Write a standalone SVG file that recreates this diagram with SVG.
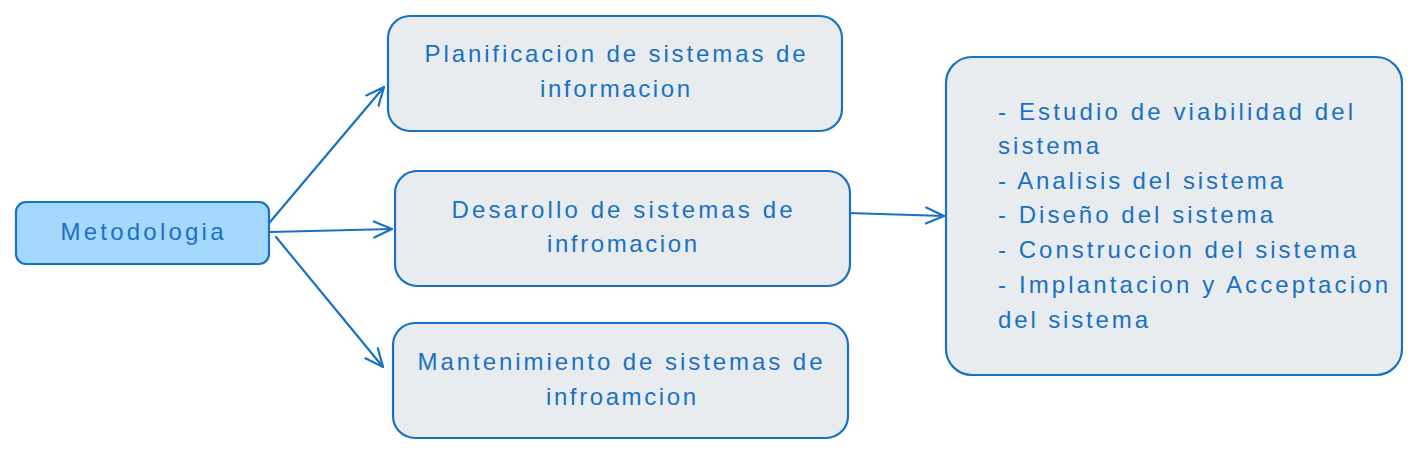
<svg xmlns="http://www.w3.org/2000/svg" width="1418" height="453" viewBox="0 0 1418 453">
<defs>
<style>
.box{fill:#e9ecef;stroke:#1971c2;stroke-width:2.2}
.main{fill:#a5d8ff;stroke:#1971c2;stroke-width:2.2}
.t{font-family:"Liberation Sans",Arial,sans-serif;font-size:24px;fill:#1971c2}
.c{text-anchor:middle}
.edge{fill:none;stroke:#1971c2;stroke-width:2.2;stroke-linecap:round}
</style>
<marker id="ah" viewBox="0 0 20 20" refX="19" refY="10" markerWidth="20" markerHeight="20" markerUnits="userSpaceOnUse" orient="auto">
<path d="M1,2 L19,10 L1,18" fill="none" stroke="#1971c2" stroke-width="2.2" stroke-linecap="round"/>
</marker>
</defs>
<rect width="1418" height="453" fill="#ffffff"/>
<g id="connectors">
<path class="edge" d="M270,222 L384,87" marker-end="url(#ah)"/>
<path class="edge" d="M270,232 L392,229" marker-end="url(#ah)"/>
<path class="edge" d="M276,237 L383,367" marker-end="url(#ah)"/>
<path class="edge" d="M848,213 L944,216" marker-end="url(#ah)"/>
</g>
<g id="metodologia">
<rect class="main" x="16" y="202" width="253" height="62" rx="10"/>
<text class="t c" x="142" y="240" textLength="163">Metodologia</text>
</g>
<g id="planificacion">
<rect class="box" x="388" y="16" width="454" height="115" rx="22"/>
<text class="t c" x="615" y="62" textLength="381">Planificacion de sistemas de</text>
<text class="t c" x="615" y="97" textLength="150">informacion</text>
</g>
<g id="desarollo">
<rect class="box" x="395" y="171" width="455" height="115" rx="22"/>
<text class="t c" x="622" y="218" textLength="341">Desarollo de sistemas de</text>
<text class="t c" x="622" y="252" textLength="150">infromacion</text>
</g>
<g id="mantenimiento">
<rect class="box" x="393" y="323" width="455" height="115" rx="22"/>
<text class="t c" x="620" y="370" textLength="405">Mantenimiento de sistemas de</text>
<text class="t c" x="621" y="405" textLength="150">infroamcion</text>
</g>
<g id="etapas">
<rect class="box" x="946" y="57" width="456" height="318" rx="26"/>
<text class="t" x="998" y="120" textLength="355">- Estudio de viabilidad del</text>
<text class="t" x="998" y="154" textLength="101">sistema</text>
<text class="t" x="998" y="189" textLength="285">- Analisis del sistema</text>
<text class="t" x="998" y="223" textLength="275">- Diseño del sistema</text>
<text class="t" x="998" y="258" textLength="358">- Construccion del sistema</text>
<text class="t" x="998" y="293" textLength="390">- Implantacion y Acceptacion</text>
<text class="t" x="998" y="328" textLength="150">del sistema</text>
</g>
</svg>
